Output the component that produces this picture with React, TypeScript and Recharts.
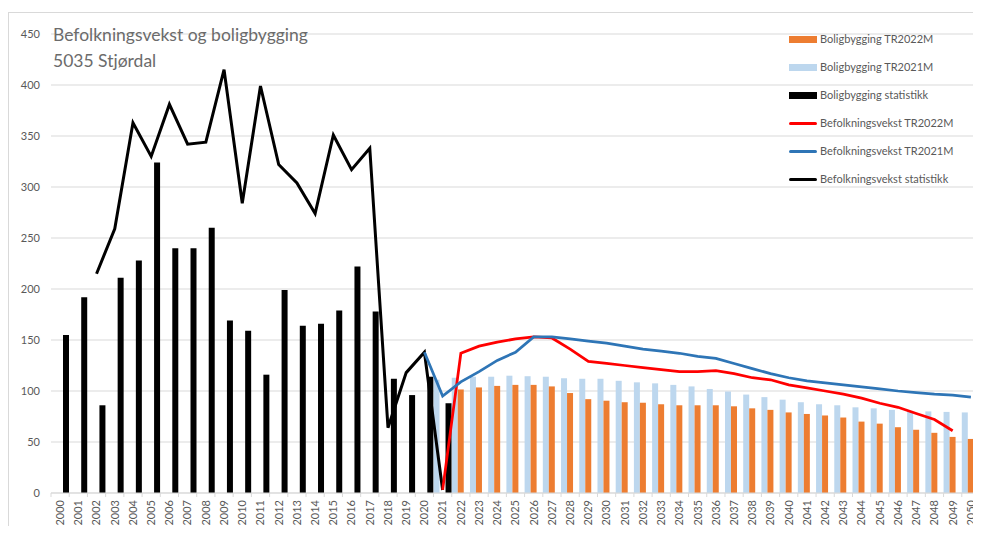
import React from 'react';
import { ComposedChart, Bar, Line, XAxis, YAxis, CartesianGrid } from 'recharts';

const years = [
  '2000', '2001', '2002', '2003', '2004', '2005', '2006', '2007', '2008', '2009',
  '2010', '2011', '2012', '2013', '2014', '2015', '2016', '2017', '2018', '2019',
  '2020', '2021', '2022', '2023', '2024', '2025', '2026', '2027', '2028', '2029',
  '2030', '2031', '2032', '2033', '2034', '2035', '2036', '2037', '2038', '2039',
  '2040', '2041', '2042', '2043', '2044', '2045', '2046', '2047', '2048', '2049', '2050',
];

// Boligbygging statistikk, 2000-2021
const boligStatStart = 2000;
const boligStat = [155, 192, 86, 211, 228, 324, 240, 240, 260, 169, 159, 116, 199, 164, 166, 179, 222, 178, 112, 96, 114, 88];

// Boligbygging TR2021M, 2021-2050
const boligTR2021Start = 2021;
const boligTR2021 = [111, 113, 114, 114, 115, 114.5, 114, 112.5, 112, 112, 110, 108.5, 107.5, 106, 104.5, 102, 99.5, 96.5, 94, 91.5, 89, 87, 86, 84, 83, 81.5, 80.5, 80, 79.5, 79];

// Boligbygging TR2022M, 2022-2050
const boligTR2022Start = 2022;
const boligTR2022 = [101.5, 103.5, 105, 106, 106, 104.5, 98, 92, 90.5, 89, 88.5, 87, 86, 86, 86, 85, 83, 81.5, 79, 77.5, 76, 74, 70, 68, 64.5, 62, 59, 55, 53];

// Befolkningsvekst statistikk, 2002-2021
const befStatStart = 2002;
const befStat = [215, 259, 363, 330, 381, 342, 344, 415, 284, 399, 322, 304, 274, 351, 317, 338, 64, 118, 138, 3];

// Befolkningsvekst TR2021M, 2020-2050
const befTR2021Start = 2020;
const befTR2021 = [138, 95, 109, 119, 130, 138, 153, 153, 151, 149, 147, 144, 141, 139, 137, 134, 132, 127, 122, 117, 113, 110, 108, 106, 104, 102, 100, 98.5, 97, 96, 94];

// Befolkningsvekst TR2022M, 2021-2049
const befTR2022Start = 2021;
const befTR2022 = [3, 137, 144, 148, 151, 153, 152, 141, 129, 127, 125, 123, 121, 119, 119, 120, 117, 113, 111, 106, 103, 100, 97, 93, 88, 84, 78, 72, 61];

const yTicks = [0, 50, 100, 150, 200, 250, 300, 350, 400, 450];

const titleLines = ['Befolkningsvekst og boligbygging', '5035 Stjørdal'];

const legendItems = [
  { label: 'Boligbygging TR2022M', color: '#ED7D31', kind: 'bar' },
  { label: 'Boligbygging TR2021M', color: '#BDD7EE', kind: 'bar' },
  { label: 'Boligbygging statistikk', color: '#000000', kind: 'bar' },
  { label: 'Befolkningsvekst TR2022M', color: '#FF0000', kind: 'line' },
  { label: 'Befolkningsvekst TR2021M', color: '#2E75B6', kind: 'line' },
  { label: 'Befolkningsvekst statistikk', color: '#000000', kind: 'line' },
];

const pick = (arr: number[], start: number, year: string) => {
  const v = arr[Number(year) - start];
  return v === undefined ? null : v;
};

const data = years.map((y) => ({
  year: y,
  boligStat: pick(boligStat, boligStatStart, y),
  boligTR2021: pick(boligTR2021, boligTR2021Start, y),
  boligTR2022: pick(boligTR2022, boligTR2022Start, y),
  befStat: pick(befStat, befStatStart, y),
  befTR2021: pick(befTR2021, befTR2021Start, y),
  befTR2022: pick(befTR2022, befTR2022Start, y),
}));

const FONT = 'Lato, "Open Sans", sans-serif';
const TEXT = '#595959';
const GRID = '#d9d9d9';
const X_TICK_MARGIN = 7;

const XTick = (props: any) => {
  const { x, y, payload, index } = props;
  const off = payload && typeof payload.offset === 'number' ? payload.offset : 0;
  const axisY = y - X_TICK_MARGIN;
  return (
    <g>
      {off > 0 && (
        <line x1={x - off} x2={x - off} y1={axisY} y2={axisY + 4} stroke={GRID} strokeWidth={1} />
      )}
      {off > 0 && index === years.length - 1 && (
        <line x1={x + off} x2={x + off} y1={axisY} y2={axisY + 4} stroke={GRID} strokeWidth={1} />
      )}
      <text
        x={x}
        y={y}
        transform={`rotate(-90 ${x} ${y})`}
        textAnchor="end"
        dy="0.35em"
        fontSize={11}
        fontFamily={FONT}
        fill={TEXT}
      >
        {payload.value}
      </text>
    </g>
  );
};

export default function App() {
  return (
    <div style={{ position: 'relative', width: 973, height: 518, fontFamily: FONT }}>
      <div
        style={{
          position: 'absolute',
          left: 0,
          top: 4,
          width: 972,
          height: 513,
          borderTop: `1px solid ${GRID}`,
          borderLeft: `1px solid ${GRID}`,
        }}
      />
      <ComposedChart
        width={973}
        height={518}
        data={data}
        margin={{ top: 26, right: 1, bottom: 0, left: 0 }}
        barCategoryGap={0}
        barGap={0}
      >
        <CartesianGrid vertical={false} stroke={GRID} strokeWidth={1} />
        <XAxis
          dataKey="year"
          interval={0}
          tickLine={false}
          tickSize={0}
          tickMargin={X_TICK_MARGIN}
          axisLine={{ stroke: GRID, strokeWidth: 1 }}
          height={33}
          tick={<XTick />}
        />
        <YAxis
          type="number"
          domain={[0, 450]}
          ticks={yTicks}
          interval={0}
          width={43}
          axisLine={false}
          tickLine={false}
          tickSize={0}
          tickMargin={11}
          tick={{ fill: TEXT, fontSize: 11, fontFamily: FONT }}
        />
        <Bar dataKey="boligTR2021" fill="#BDD7EE" isAnimationActive={false} />
        <Bar dataKey="boligTR2022" fill="#ED7D31" isAnimationActive={false} />
        <Bar dataKey="boligStat" fill="#000000" isAnimationActive={false} />
        <Line
          dataKey="befStat"
          stroke="#000000"
          strokeWidth={3}
          dot={false}
          activeDot={false}
          type="linear"
          isAnimationActive={false}
        />
        <Line
          dataKey="befTR2022"
          stroke="#FF0000"
          strokeWidth={2.75}
          dot={false}
          activeDot={false}
          type="linear"
          isAnimationActive={false}
        />
        <Line
          dataKey="befTR2021"
          stroke="#2E75B6"
          strokeWidth={2.75}
          dot={false}
          activeDot={false}
          type="linear"
          isAnimationActive={false}
        />
      </ComposedChart>
      <div
        style={{
          position: 'absolute',
          left: 45,
          top: 14,
          fontSize: 17.5,
          lineHeight: '26px',
          color: '#6b6b6b',
          whiteSpace: 'pre',
        }}
      >
        {titleLines.map((t) => (
          <div key={t}>{t}</div>
        ))}
      </div>
      <div style={{ position: 'absolute', left: 781, top: 17 }}>
        {legendItems.map((it) => (
          <div
            key={it.label}
            style={{ display: 'flex', alignItems: 'center', height: 28, whiteSpace: 'nowrap' }}
          >
            <div
              style={{
                width: 28,
                height: it.kind === 'bar' ? 7 : 3,
                background: it.color,
                borderRadius: it.kind === 'line' ? 1.5 : 0,
              }}
            />
            <span style={{ marginLeft: 3, fontSize: 11, color: TEXT, lineHeight: '14px' }}>{it.label}</span>
          </div>
        ))}
      </div>
    </div>
  );
}
